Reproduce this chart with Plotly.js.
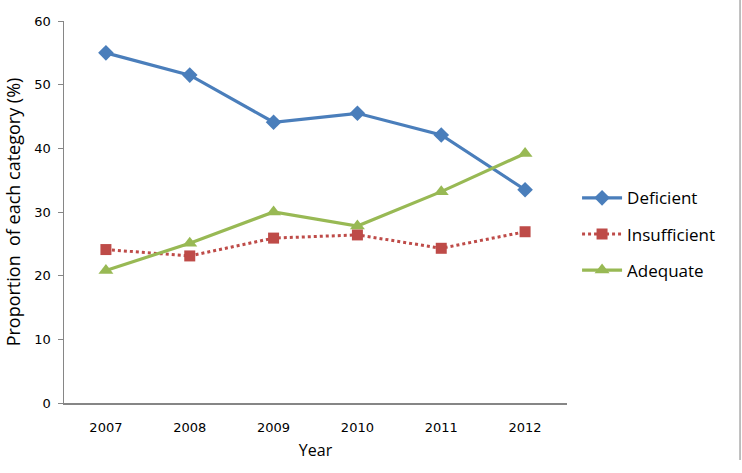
<!DOCTYPE html>
<html>
<head>
<meta charset="utf-8">
<script src="https://cdn.plot.ly/plotly-3.0.1.min.js"></script>
<style>html,body{margin:0;padding:0;background:#fff;}#chart{width:742px;height:473px;}</style>
</head>
<body>
<div id="chart"></div>
<script>
const years = ["2007", "2008", "2009", "2010", "2011", "2012"];
const deficient = [55.0, 51.5, 44.1, 45.5, 42.1, 33.5];
const insufficient = [24.1, 23.1, 25.9, 26.4, 24.3, 26.9];
const adequate = [20.8, 25.1, 30.0, 27.8, 33.2, 39.2];
const yTicks = [0, 10, 20, 30, 40, 50, 60];

const traces = [
  {x: years, y: deficient, name: "Deficient", type: "scatter", mode: "lines+markers", legendgroup: "a",
   line: {color: "#4A7EBB", width: 3.2}, marker: {symbol: "diamond", size: 12, color: "#4A7EBB"}},
  {x: years, y: insufficient, name: "Insufficient", type: "scatter", mode: "lines+markers", legendgroup: "b",
   line: {color: "#BE4B48", width: 3, dash: "dot"}, marker: {symbol: "square", size: 11, color: "#BE4B48"}},
  {x: years, y: adequate, name: "Adequate", type: "scatter", mode: "lines+markers", legendgroup: "c",
   line: {color: "#98B954", width: 3.2}, marker: {symbol: "triangle-up", size: 13, color: "#98B954"}}
];

const layout = {
  width: 742, height: 473,
  margin: {l: 64, r: 175, t: 21, b: 70},
  paper_bgcolor: "#fff", plot_bgcolor: "#fff",
  showlegend: true,
  legend: {x: 1.02, xanchor: "left", y: 0.583, yanchor: "top", traceorder: "grouped", tracegroupgap: 11,
           font: {family: "Open Sans, sans-serif", size: 17, color: "#000"}, itemwidth: 40},
  xaxis: {type: "category", range: [-0.5, 5.5], showgrid: false, zeroline: false,
          showline: true, linecolor: "#868686", linewidth: 1.5, ticks: "", ticklabelstandoff: 12,
          tickfont: {family: "DejaVu Sans, sans-serif", size: 13, color: "#000"},
          title: {text: "Year", standoff: 10, font: {family: "Open Sans, sans-serif", size: 16, color: "#000"}}},
  yaxis: {range: [0, 60], tickvals: yTicks, ticktext: yTicks.map(String), showgrid: false, zeroline: false,
          showline: true, linecolor: "#868686", linewidth: 1.5, ticks: "outside", ticklen: 5, tickcolor: "#868686",
          ticklabelstandoff: 4,
          tickfont: {family: "DejaVu Sans, sans-serif", size: 13, color: "#000"},
          title: {text: "Proportion  of each category (%)", standoff: 9, font: {family: "Open Sans, sans-serif", size: 18, color: "#000"}}},
  shapes: [{type: "line", xref: "paper", yref: "paper", x0: 1.344, x1: 1.344, y0: -0.149, y1: 1.055,
            line: {color: "#aaaaaa", width: 1.5}}]
};

Plotly.newPlot("chart", traces, layout, {displayModeBar: false, staticPlot: true});
</script>
</body>
</html>
